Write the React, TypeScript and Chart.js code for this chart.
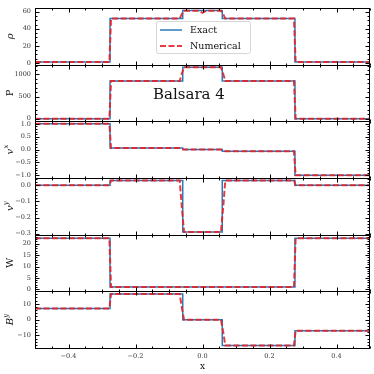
import { useEffect, useRef } from 'react';
import { Chart, registerables } from 'chart.js';

Chart.register(...registerables);

// ---------- data ----------
const exactX = [-0.5, -0.276, -0.276, -0.059, -0.059, 0.059, 0.059, 0.276, 0.276, 0.5];
const rhoExact = [1, 1, 52, 52, 61.5, 61.5, 52, 52, 1, 1];
const pExact = [0.1, 0.1, 853, 853, 1165, 1165, 853, 853, 0.1, 0.1];
const vxExact = [0.999, 0.999, 0.06, 0.06, 0, 0, -0.06, -0.06, -0.999, -0.999];
const vyExact = [0, 0, 0.03, 0.03, -0.29, -0.29, 0.03, 0.03, 0, 0];
const wExact = [22.37, 22.37, 1.0, 1.0, 1.05, 1.05, 1.0, 1.0, 22.37, 22.37];
const byExact = [7, 7, 16.25, 16.25, 0, 0, -16.25, -16.25, -7, -7];

const numX = [-0.5, -0.278, -0.273, -0.068, -0.062, -0.055, -0.012, 0, 0.012, 0.055, 0.062, 0.068, 0.273, 0.278, 0.5];
const rhoNum = [1, 1, 52, 52, 57, 61.3, 61.3, 58.8, 61.3, 61.3, 57, 52, 52, 1, 1];
const pNum = [0.1, 0.1, 853, 853, 1010, 1165, 1165, 1165, 1165, 1165, 1010, 853, 853, 0.1, 0.1];
const vxNum = [0.999, 0.999, 0.06, 0.06, 0.03, 0, 0, 0, 0, 0, -0.03, -0.06, -0.06, -0.999, -0.999];
const vyNum = [0, 0, 0.03, 0.03, -0.13, -0.29, -0.29, -0.29, -0.29, -0.29, -0.13, 0.03, 0.03, 0, 0];
const wNum = [22.37, 22.37, 1.0, 1.0, 1.02, 1.05, 1.05, 1.05, 1.05, 1.05, 1.02, 1.0, 1.0, 22.37, 22.37];
const byNum = [7, 7, 16.25, 16.25, 8, 0, 0, 0, 0, 0, -8, -16.25, -16.25, -7, -7];

// ---------- ticks ----------
const xTicks = [-0.4, -0.2, 0, 0.2, 0.4];
const xTickLabels = ['−0.4', '−0.2', '0.0', '0.2', '0.4'];
const rhoTicks = [0, 20, 40, 60];
const rhoTickLabels = ['0', '20', '40', '60'];
const pTicks = [0, 500, 1000];
const pTickLabels = ['0', '500', '1000'];
const vxTicks = [-1, -0.5, 0, 0.5, 1];
const vxTickLabels = ['−1.0', '−0.5', '0.0', '0.5', '1.0'];
const vyTicks = [-0.3, -0.2, -0.1, 0];
const vyTickLabels = ['−0.3', '−0.2', '−0.1', '0.0'];
const wTicks = [0, 5, 10, 15, 20];
const wTickLabels = ['0', '5', '10', '15', '20'];
const byTicks = [-10, 0, 10];
const byTickLabels = ['−10', '0', '10'];

const legendLabels = ['Exact', 'Numerical'];
const annotation = 'Balsara 4';

const FONT = 'DejaVu Serif';
const BLUE = '#2b7bba';
const RED = 'rgba(228,32,36,0.88)';

const panels = [
  { id: 'yRho', exact: rhoExact, num: rhoNum, min: -2, max: 64.5, ticks: rhoTicks, labels: rhoTickLabels, minor: 5, main: 'ρ', sup: '', italic: true },
  { id: 'yP', exact: pExact, num: pNum, min: -58, max: 1223, ticks: pTicks, labels: pTickLabels, minor: 100, main: 'P', sup: '', italic: false },
  { id: 'yVx', exact: vxExact, num: vxNum, min: -1.1, max: 1.1, ticks: vxTicks, labels: vxTickLabels, minor: 0.1, main: 'v', sup: 'x', italic: true },
  { id: 'yVy', exact: vyExact, num: vyNum, min: -0.306, max: 0.046, ticks: vyTicks, labels: vyTickLabels, minor: 0.02, main: 'v', sup: 'y', italic: true },
  { id: 'yW', exact: wExact, num: wNum, min: -0.9, max: 24.0, ticks: wTicks, labels: wTickLabels, minor: 1, main: 'W', sup: '', italic: false },
  { id: 'yBy', exact: byExact, num: byNum, min: -17.9, max: 17.9, ticks: byTicks, labels: byTickLabels, minor: 2, main: 'B', sup: 'y', italic: true },
];

const MAJOR = 4;
const MINOR = 2;

function labelFor(values: number[], labels: string[], v: number): string {
  const i = values.findIndex((t) => Math.abs(t - v) < 1e-6);
  return i >= 0 ? labels[i] : '';
}

const framePlugin = {
  id: 'frame',
  afterDatasetsDraw(chart: any) {
    const ctx = chart.ctx as CanvasRenderingContext2D;
    const ca = chart.chartArea;
    const xs = chart.scales.x;
    const L = Math.round(ca.left) + 0.5;
    const R = Math.round(ca.right) - 0.5;
    ctx.save();
    ctx.strokeStyle = '#000';
    ctx.lineWidth = 1;
    panels.forEach((p) => {
      const s = chart.scales[p.id];
      const T = Math.round(s.top) + 0.5;
      const B = Math.round(s.bottom) + 0.5;
      ctx.strokeStyle = '#000';
      ctx.lineWidth = 1;
      ctx.strokeRect(L, T, R - L, B - T);
      ctx.beginPath();
      const xmin = xs.min, xmax = xs.max;
      const xstep = 0.05;
      for (let k = Math.ceil(xmin / xstep - 1e-9); k * xstep <= xmax + 1e-9; k++) {
        const v = k * xstep;
        const isMajor = xTicks.some((t) => Math.abs(t - v) < 1e-6);
        const len = isMajor ? MAJOR : MINOR;
        const px = Math.round(xs.getPixelForValue(v)) + 0.5;
        ctx.moveTo(px, T); ctx.lineTo(px, T + len);
        ctx.moveTo(px, B); ctx.lineTo(px, B - len);
      }
      for (let k = Math.ceil(p.min / p.minor - 1e-9); k * p.minor <= p.max + 1e-9; k++) {
        const v = k * p.minor;
        const isMajor = p.ticks.some((t) => Math.abs(t - v) < 1e-6);
        const len = isMajor ? MAJOR : MINOR;
        const py = Math.round(s.getPixelForValue(v)) + 0.5;
        ctx.moveTo(L, py); ctx.lineTo(L + len, py);
        ctx.moveTo(R, py); ctx.lineTo(R - len, py);
      }
      ctx.stroke();

      const cy = (s.top + s.bottom) / 2;
      ctx.save();
      ctx.translate(9, cy);
      ctx.rotate(-Math.PI / 2);
      ctx.fillStyle = '#111';
      ctx.textBaseline = 'alphabetic';
      const mainFont = `${p.italic ? 'italic ' : ''}10px ${FONT}`;
      const supFont = `${p.italic ? 'italic ' : ''}7px ${FONT}`;
      ctx.font = mainFont;
      const w1 = ctx.measureText(p.main).width;
      ctx.font = supFont;
      const w2 = p.sup ? ctx.measureText(p.sup).width : 0;
      const total = w1 + w2;
      ctx.font = mainFont;
      ctx.fillText(p.main, -total / 2, 3.5);
      if (p.sup) {
        ctx.font = supFont;
        ctx.fillText(p.sup, -total / 2 + w1 + 0.3, -1);
      }
      ctx.restore();
    });

    // legend
    const lx = 156.5, ly = 21.5, lw = 94, lh = 32;
    ctx.beginPath();
    (ctx as any).roundRect(lx, ly, lw, lh, 2);
    ctx.fillStyle = 'rgba(255,255,255,0.85)';
    ctx.fill();
    ctx.strokeStyle = '#d6d6d6';
    ctx.lineWidth = 1;
    ctx.stroke();
    ctx.lineWidth = 1.5;
    ctx.strokeStyle = BLUE;
    ctx.beginPath(); ctx.moveTo(160, 30); ctx.lineTo(182, 30); ctx.stroke();
    ctx.lineWidth = 2;
    ctx.strokeStyle = RED;
    ctx.setLineDash([6, 2.5]);
    ctx.beginPath(); ctx.moveTo(160, 46); ctx.lineTo(182, 46); ctx.stroke();
    ctx.setLineDash([]);
    ctx.fillStyle = '#111';
    ctx.font = `9.5px ${FONT}`;
    ctx.textBaseline = 'middle';
    ctx.fillText(legendLabels[0], 190, 30.5);
    ctx.fillText(legendLabels[1], 190, 46.5);

    ctx.font = `15px ${FONT}`;
    ctx.textBaseline = 'alphabetic';
    ctx.fillText(annotation, 153, 99);
    ctx.restore();
  },
};

export default function App() {
  const ref = useRef<HTMLCanvasElement>(null);
  useEffect(() => {
    const canvas = ref.current!;
    const datasets: any[] = [];
    panels.forEach((p) => {
      datasets.push({
        label: legendLabels[1],
        data: numX.map((x, k) => ({ x, y: p.num[k] })),
        yAxisID: p.id,
        borderColor: RED,
        borderWidth: 2,
        borderDash: [6, 2.5],
        pointRadius: 0,
        fill: false,
        tension: 0,
        order: 0,
      });
      datasets.push({
        label: legendLabels[0],
        data: exactX.map((x, k) => ({ x, y: p.exact[k] })),
        yAxisID: p.id,
        borderColor: BLUE,
        borderWidth: 1.5,
        pointRadius: 0,
        fill: false,
        tension: 0,
        order: 1,
      });
    });
    const scales: any = {
      x: {
        type: 'linear',
        position: 'bottom',
        min: -0.5,
        max: 0.5,
        grid: { display: false, drawTicks: false },
        border: { display: false },
        afterBuildTicks: (s: any) => { s.ticks = xTicks.map((v) => ({ value: v })); },
        afterFit: (s: any) => { s.height = 26; },
        ticks: {
          font: { family: FONT, size: 6.5 },
          color: '#333',
          padding: 4,
          maxRotation: 0,
          autoSkip: false,
          callback: (v: any) => labelFor(xTicks, xTickLabels, Number(v)),
        },
        title: { display: true, text: 'x', font: { family: FONT, size: 9 }, color: '#111', padding: { top: 0, bottom: 2 } },
      },
    };
    panels.forEach((p, i) => {
      scales[p.id] = {
        type: 'linear',
        position: 'left',
        stack: 'panels',
        stackWeight: 1,
        weight: panels.length - i,
        min: p.min,
        max: p.max,
        grid: { display: false, drawTicks: false },
        border: { display: false },
        afterBuildTicks: (s: any) => { s.ticks = p.ticks.map((v) => ({ value: v })); },
        afterFit: (s: any) => { s.width = 35; },
        ticks: {
          font: { family: FONT, size: 6.5 },
          color: '#333',
          padding: 4,
          autoSkip: false,
          callback: (v: any) => labelFor(p.ticks, p.labels, Number(v)),
        },
      };
    });
    const chart = new Chart(canvas, {
      type: 'line',
      data: { datasets },
      options: {
        animation: false,
        responsive: false,
        devicePixelRatio: 1,
        layout: { padding: { top: 3, right: 4, left: 0, bottom: 0 } },
        plugins: { legend: { display: false }, tooltip: { enabled: false } },
        scales,
      },
      plugins: [framePlugin],
    } as any);
    return () => chart.destroy();
  }, []);
  return (
    <canvas
      ref={ref}
      width={374}
      height={374}
      style={{ position: 'absolute', left: 0, top: 0, background: '#fff' }}
    />
  );
}
